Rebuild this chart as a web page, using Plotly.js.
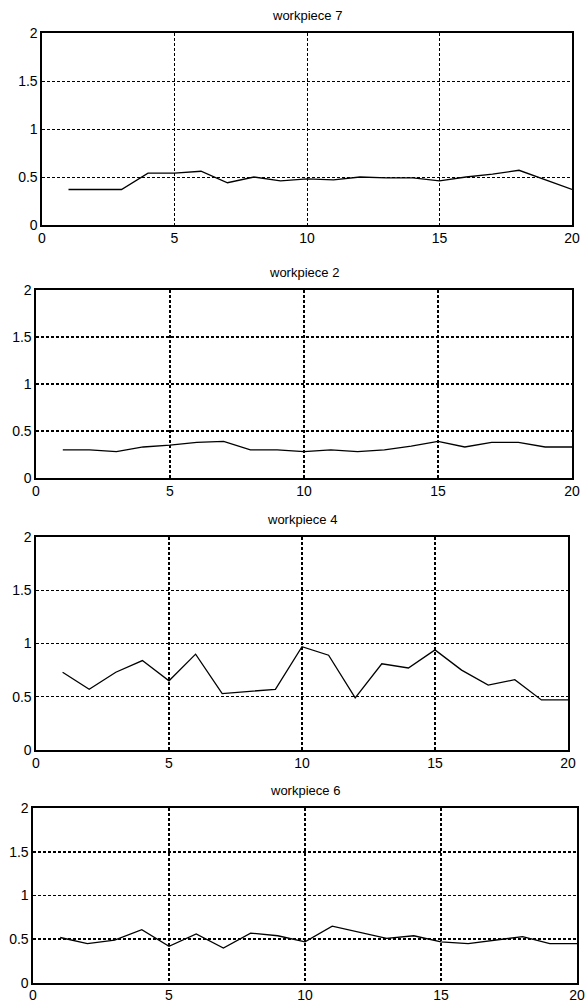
<!DOCTYPE html>
<html>
<head>
<meta charset="utf-8">
<script src="https://cdn.plot.ly/plotly-3.0.1.min.js"></script>
<style>html,body{margin:0;padding:0;background:#fff;}#chart{width:587px;height:1007px;}</style>
</head>
<body>
<div id="chart"></div>
<script>
const xValues = [1,2,3,4,5,6,7,8,9,10,11,12,13,14,15,16,17,18,19,20];
const panelTitles = ["workpiece 7", "workpiece 2", "workpiece 4", "workpiece 6"];
const workpiece7 = [0.37,0.37,0.37,0.54,0.54,0.56,0.44,0.50,0.46,0.48,0.47,0.50,0.49,0.49,0.46,0.50,0.53,0.57,0.47,0.37];
const workpiece2 = [0.30,0.30,0.28,0.33,0.35,0.38,0.39,0.30,0.30,0.28,0.30,0.28,0.30,0.34,0.39,0.33,0.38,0.38,0.33,0.33];
const workpiece4 = [0.73,0.57,0.73,0.84,0.65,0.90,0.53,0.55,0.57,0.97,0.89,0.49,0.81,0.77,0.94,0.75,0.61,0.66,0.47,0.47];
const workpiece6 = [0.52,0.45,0.49,0.61,0.42,0.56,0.40,0.57,0.54,0.47,0.65,0.58,0.51,0.54,0.47,0.45,0.49,0.53,0.45,0.45];
const xTicks = [0,5,10,15,20];
const yTicks = [0,0.5,1,1.5,2];
const yTickLabels = ["0","0.5","1","1.5","2"];

const series = [workpiece7, workpiece2, workpiece4, workpiece6];
const W = 587, H = 1007;
// pixel boxes [left, right, top, bottom]
const boxes = [
  [42, 572, 33, 225],
  [36, 572, 290, 478],
  [36, 568, 537, 750],
  [33, 577, 808, 983]
];
const gridWidths = [1, 1.6, 1.2, 1.6];
const font = {family: "Liberation Sans, Arial, sans-serif", size: 12, color: "#000"};
const traces = [];
const layout = {
  width: W, height: H,
  margin: {l: 0, r: 0, t: 0, b: 0},
  paper_bgcolor: "#fff", plot_bgcolor: "#fff",
  showlegend: false,
  font: font,
  annotations: []
};
series.forEach((vals, i) => {
  const n = i === 0 ? "" : String(i + 1);
  traces.push({
    x: xValues, y: vals, type: "scatter", mode: "lines",
    line: {color: "#000", width: 1.3},
    xaxis: "x" + n, yaxis: "y" + n, hoverinfo: "skip"
  });
  const b = boxes[i];
  const axCommon = {
    showline: true, mirror: true, linecolor: "#000", linewidth: 1.6,
    showgrid: true, gridcolor: "#000", gridwidth: gridWidths[i], griddash: "3px,2px",
    zeroline: false, ticks: "", tickfont: {family: font.family, size: 14, color: "#000"},
    fixedrange: true
  };
  layout["xaxis" + n] = Object.assign({}, axCommon, {
    domain: [b[0] / W, b[1] / W], range: [0, 20],
    tickmode: "array", tickvals: xTicks, ticktext: xTicks.map(String),
    ticklabelstandoff: i === 3 ? -1 : 0,
    anchor: "y" + n
  });
  layout["yaxis" + n] = Object.assign({}, axCommon, {
    domain: [1 - b[3] / H, 1 - b[2] / H], range: [0, 2],
    tickmode: "array", tickvals: yTicks, ticktext: yTickLabels,
    anchor: "x" + n
  });
  layout.annotations.push({
    text: panelTitles[i], xref: "paper", yref: "paper",
    x: (b[0] + b[1]) / 2 / W, y: 1 - (b[2] - 8) / H,
    xanchor: "center", yanchor: "bottom", showarrow: false,
    font: {family: font.family, size: 13, color: "#000"}
  });
});
Plotly.newPlot("chart", traces, layout, {displayModeBar: false, staticPlot: true});
</script>
</body>
</html>
